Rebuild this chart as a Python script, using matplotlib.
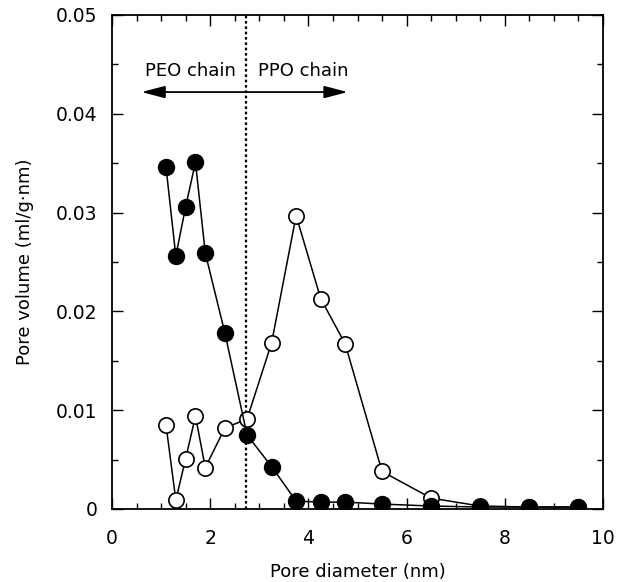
import numpy as np
import matplotlib.pyplot as plt
from matplotlib.ticker import MultipleLocator

# filled circles
xFilled = [1.1, 1.3, 1.5, 1.7, 1.9, 2.3, 2.75, 3.25, 3.75, 4.25, 4.75, 5.5, 6.5, 7.5, 8.5, 9.5]
yFilled = [0.0346, 0.0256, 0.0306, 0.0351, 0.0259, 0.0178, 0.0075, 0.0043, 0.0008, 0.0007,
           0.0007, 0.0005, 0.0003, 0.0002, 0.0002, 0.0002]

# open circles
xOpen = [1.1, 1.3, 1.5, 1.7, 1.9, 2.3, 2.75, 3.25, 3.75, 4.25, 4.75, 5.5, 6.5, 7.5, 8.5, 9.5]
yOpen = [0.0085, 0.0009, 0.0051, 0.0094, 0.0042, 0.0082, 0.0091, 0.0168, 0.0297, 0.0213,
         0.0167, 0.0038, 0.0011, 0.0003, 0.0002, 0.0002]

xBoundary = 2.72


def main():
    plt.rcParams['font.family'] = 'DejaVu Sans'
    fig = plt.figure(figsize=(6.17, 5.82), dpi=100)
    ax = fig.add_axes([112 / 617, 1 - 509 / 582, 491 / 617, 494 / 582])

    ax.plot(xOpen, yOpen, color='black', lw=1.1, marker='o', ms=11,
            mfc='white', mec='black', mew=1.2, zorder=3)
    ax.plot(xFilled, yFilled, color='black', lw=1.1, marker='o', ms=11.5,
            mfc='black', mec='black', zorder=4)

    ax.axvline(xBoundary, color='black', ls=(0, (1.2, 1.2)), lw=1.6, zorder=2)

    ax.annotate('', xy=(0.6, 0.0422), xytext=(4.8, 0.0422),
                arrowprops=dict(arrowstyle='<|-|>,head_length=0.65,head_width=0.17',
                                color='black', lw=1.3,
                                mutation_scale=22, shrinkA=0, shrinkB=0))
    ax.text(1.6, 0.0443, 'PEO chain', ha='center', va='center', fontsize=13)
    ax.text(3.9, 0.0443, 'PPO chain', ha='center', va='center', fontsize=13)

    ax.set_xlim(0, 10)
    ax.set_ylim(0, 0.05)
    ax.xaxis.set_major_locator(MultipleLocator(2))
    ax.xaxis.set_minor_locator(MultipleLocator(0.5))
    ax.yaxis.set_major_locator(MultipleLocator(0.01))
    ax.yaxis.set_minor_locator(MultipleLocator(0.005))
    ax.set_yticks([0, 0.01, 0.02, 0.03, 0.04, 0.05])
    ax.set_yticklabels(['0', '0.01', '0.02', '0.03', '0.04', '0.05'])
    ax.tick_params(which='both', direction='in', top=True, right=True, labelsize=13.5,
                   width=1.0)
    ax.tick_params(which='major', length=8)
    ax.tick_params(which='minor', length=4.5)
    ax.tick_params(axis='x', which='major', pad=14.5)
    ax.tick_params(axis='y', which='major', pad=10.5)
    for s in ax.spines.values():
        s.set_linewidth(1.3)

    ax.set_xlabel('Pore diameter (nm)', fontsize=13, labelpad=11)
    ax.set_ylabel('Pore volume (ml/g\u00b7nm)', fontsize=13, labelpad=16)

    fig.savefig('out.png', dpi=100)


main()
